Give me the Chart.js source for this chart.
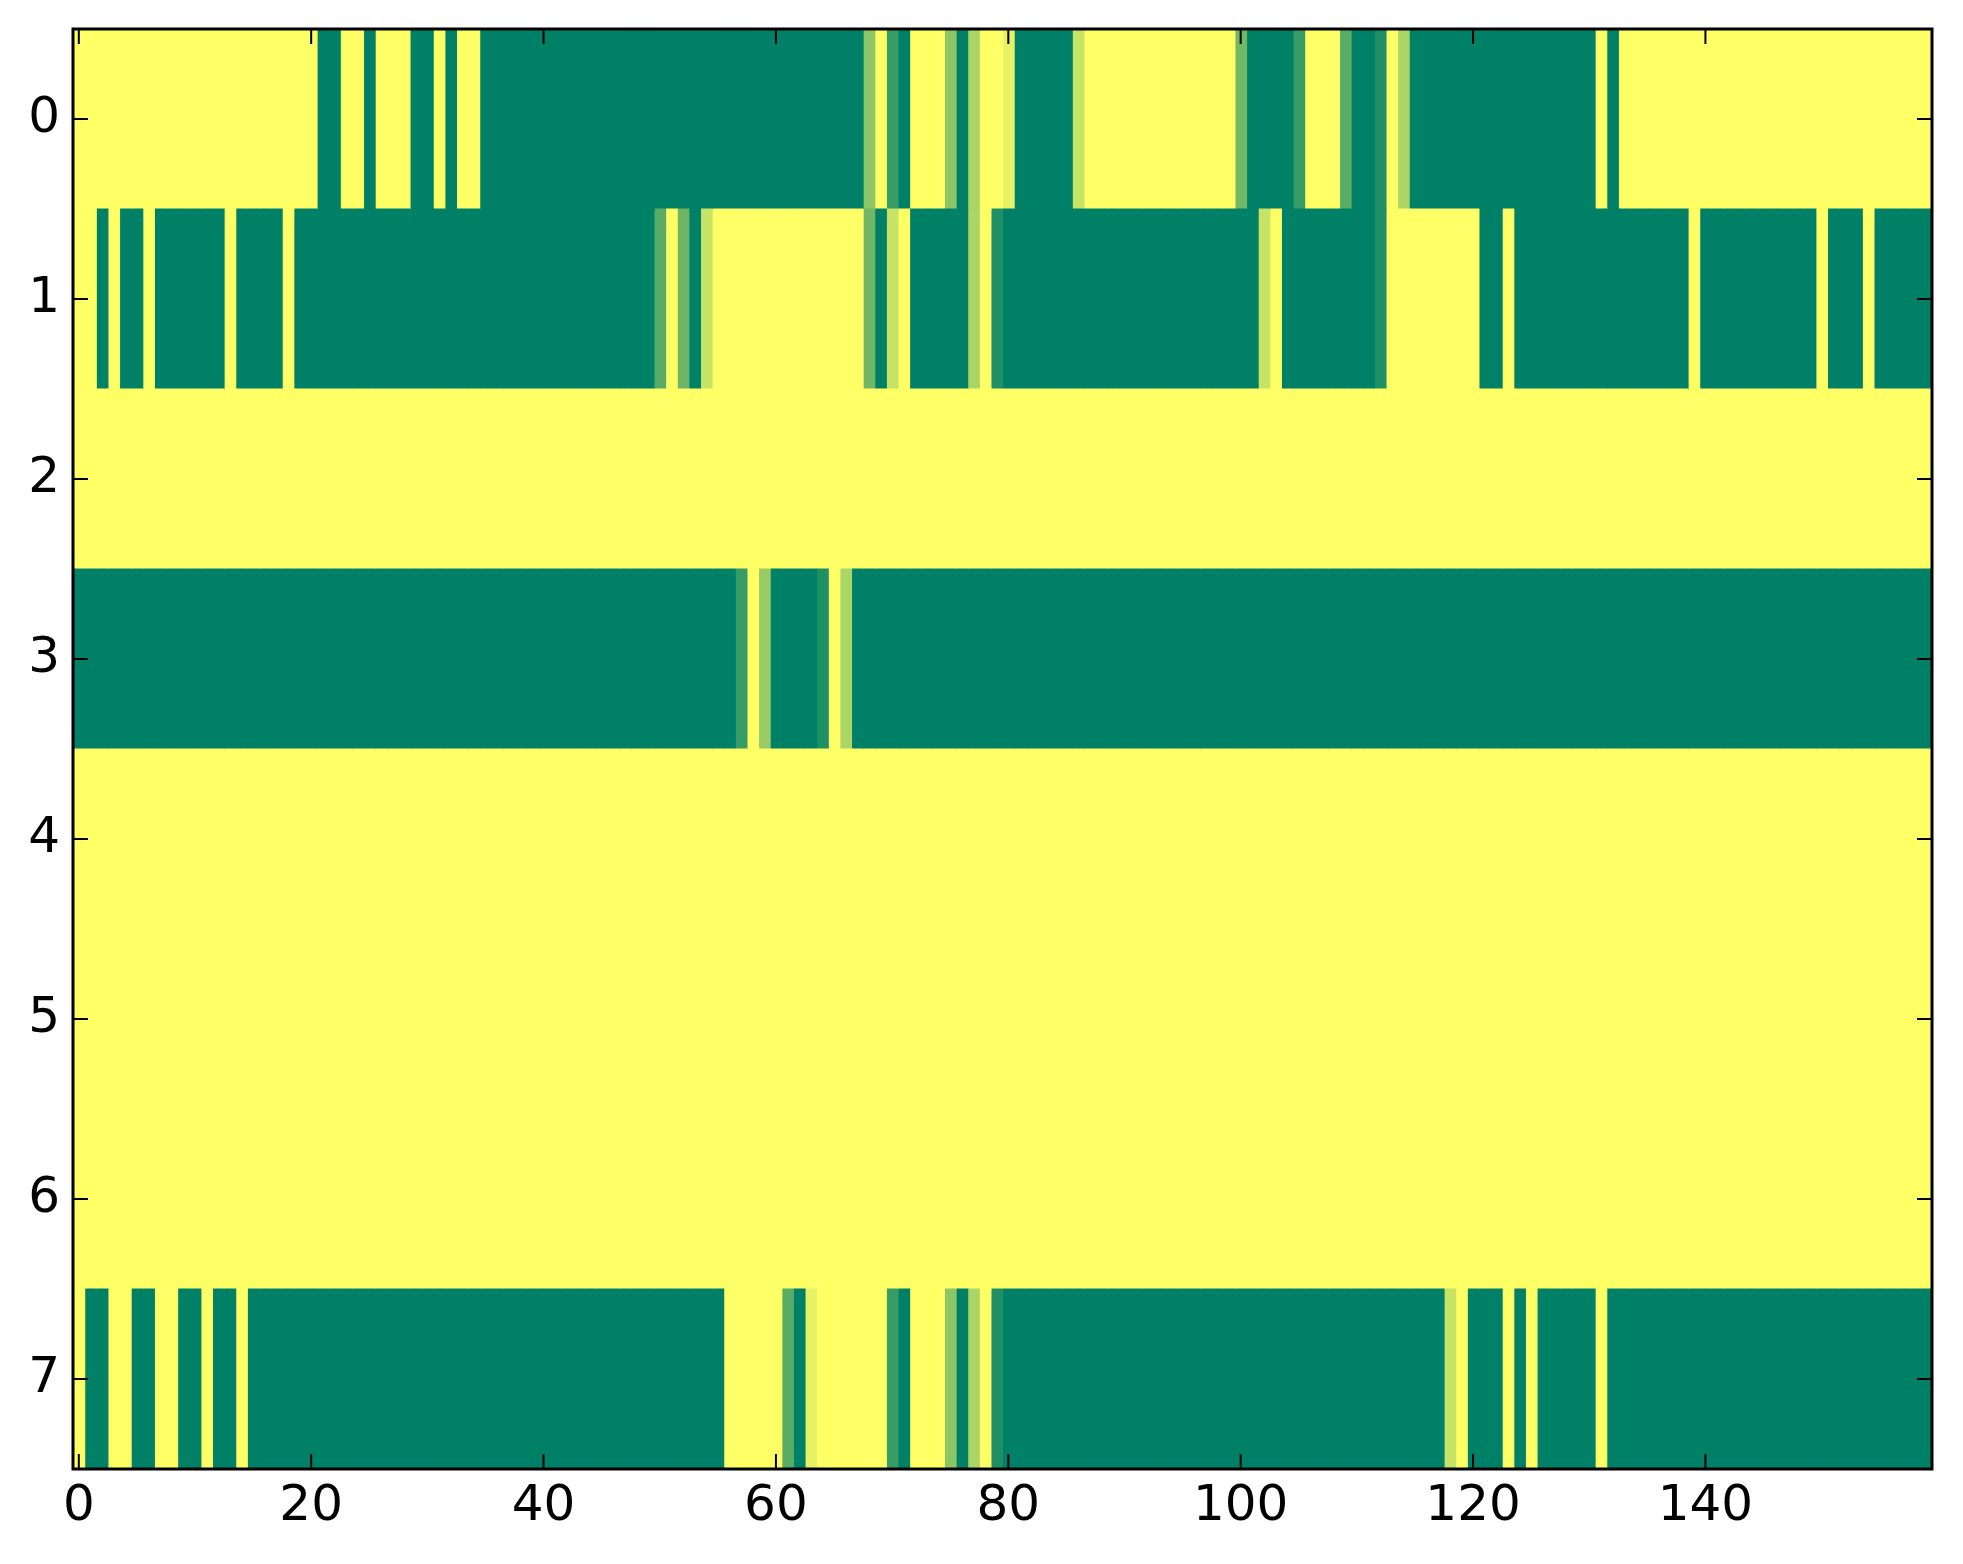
<!DOCTYPE html>
<html><head><meta charset="utf-8">
<script src="https://cdn.jsdelivr.net/npm/chart.js@4.4.1/dist/chart.umd.min.js"></script>
<style>html,body{margin:0;padding:0;background:#fff;}#wrap{width:1963px;height:1564px;}</style>
</head><body><div id="wrap"><canvas id="c" width="1963" height="1564"></canvas></div>
<script>
const rowLabels = ['0','1','2','3','4','5','6','7'];
const xTickValues = [0,20,40,60,80,100,120,140];

const row0 = [
 1,1,1,1,1,1,1,1,1,1,1,1,1,1,1,1,1,1,1,1,
 1,0,0,1,1,0,1,1,1,0,0,1,0,1,1,0,0,0,0,0,
 0,0,0,0,0,0,0,0,0,0,0,0,0,0,0,0,0,0,0,0,
 0,0,0,0,0,0,0,0,.55,1,.22,0,1,1,1,.55,0,.67,1,1,
 .9,0,0,0,0,0,.78,1,1,1,1,1,1,1,1,1,1,1,1,1,
 .44,0,0,0,0,.22,1,1,1,.35,0,0,.12,1,.67,0,0,0,0,0,
 0,0,0,0,0,0,0,0,0,0,0,1,0,1,1,1,1,1,1,1,
 1,1,1,1,1,1,1,1,1,1,1,1,1,1,1,1,1,1,1,1];
const row1 = [
 1,1,0,1,0,0,1,0,0,0,0,0,0,1,0,0,0,0,1,0,
 0,0,0,0,0,0,0,0,0,0,0,0,0,0,0,0,0,0,0,0,
 0,0,0,0,0,0,0,0,0,0,.35,1,.43,0,.78,1,1,1,1,1,
 1,1,1,1,1,1,1,1,.44,0,.78,1,0,0,0,0,0,.67,1,.12,
 0,0,0,0,0,0,0,0,0,0,0,0,0,0,0,0,0,0,0,0,
 0,0,.78,1,0,0,0,0,0,0,0,0,.12,1,1,1,1,1,1,1,
 1,0,0,1,0,0,0,0,0,0,0,0,0,0,0,0,0,0,0,1,
 0,0,0,0,0,0,0,0,0,0,1,0,0,0,1,0,0,0,0,0];
const row2 = [
 1,1,1,1,1,1,1,1,1,1,1,1,1,1,1,1,1,1,1,1,
 1,1,1,1,1,1,1,1,1,1,1,1,1,1,1,1,1,1,1,1,
 1,1,1,1,1,1,1,1,1,1,1,1,1,1,1,1,1,1,1,1,
 1,1,1,1,1,1,1,1,1,1,1,1,1,1,1,1,1,1,1,1,
 1,1,1,1,1,1,1,1,1,1,1,1,1,1,1,1,1,1,1,1,
 1,1,1,1,1,1,1,1,1,1,1,1,1,1,1,1,1,1,1,1,
 1,1,1,1,1,1,1,1,1,1,1,1,1,1,1,1,1,1,1,1,
 1,1,1,1,1,1,1,1,1,1,1,1,1,1,1,1,1,1,1,1];
const row3 = [
 0,0,0,0,0,0,0,0,0,0,0,0,0,0,0,0,0,0,0,0,
 0,0,0,0,0,0,0,0,0,0,0,0,0,0,0,0,0,0,0,0,
 0,0,0,0,0,0,0,0,0,0,0,0,0,0,0,0,0,.22,1,.6,
 0,0,0,0,.12,1,.67,0,0,0,0,0,0,0,0,0,0,0,0,0,
 0,0,0,0,0,0,0,0,0,0,0,0,0,0,0,0,0,0,0,0,
 0,0,0,0,0,0,0,0,0,0,0,0,0,0,0,0,0,0,0,0,
 0,0,0,0,0,0,0,0,0,0,0,0,0,0,0,0,0,0,0,0,
 0,0,0,0,0,0,0,0,0,0,0,0,0,0,0,0,0,0,0,0];
const row4 = [
 1,1,1,1,1,1,1,1,1,1,1,1,1,1,1,1,1,1,1,1,
 1,1,1,1,1,1,1,1,1,1,1,1,1,1,1,1,1,1,1,1,
 1,1,1,1,1,1,1,1,1,1,1,1,1,1,1,1,1,1,1,1,
 1,1,1,1,1,1,1,1,1,1,1,1,1,1,1,1,1,1,1,1,
 1,1,1,1,1,1,1,1,1,1,1,1,1,1,1,1,1,1,1,1,
 1,1,1,1,1,1,1,1,1,1,1,1,1,1,1,1,1,1,1,1,
 1,1,1,1,1,1,1,1,1,1,1,1,1,1,1,1,1,1,1,1,
 1,1,1,1,1,1,1,1,1,1,1,1,1,1,1,1,1,1,1,1];
const row5 = [
 1,1,1,1,1,1,1,1,1,1,1,1,1,1,1,1,1,1,1,1,
 1,1,1,1,1,1,1,1,1,1,1,1,1,1,1,1,1,1,1,1,
 1,1,1,1,1,1,1,1,1,1,1,1,1,1,1,1,1,1,1,1,
 1,1,1,1,1,1,1,1,1,1,1,1,1,1,1,1,1,1,1,1,
 1,1,1,1,1,1,1,1,1,1,1,1,1,1,1,1,1,1,1,1,
 1,1,1,1,1,1,1,1,1,1,1,1,1,1,1,1,1,1,1,1,
 1,1,1,1,1,1,1,1,1,1,1,1,1,1,1,1,1,1,1,1,
 1,1,1,1,1,1,1,1,1,1,1,1,1,1,1,1,1,1,1,1];
const row6 = [
 1,1,1,1,1,1,1,1,1,1,1,1,1,1,1,1,1,1,1,1,
 1,1,1,1,1,1,1,1,1,1,1,1,1,1,1,1,1,1,1,1,
 1,1,1,1,1,1,1,1,1,1,1,1,1,1,1,1,1,1,1,1,
 1,1,1,1,1,1,1,1,1,1,1,1,1,1,1,1,1,1,1,1,
 1,1,1,1,1,1,1,1,1,1,1,1,1,1,1,1,1,1,1,1,
 1,1,1,1,1,1,1,1,1,1,1,1,1,1,1,1,1,1,1,1,
 1,1,1,1,1,1,1,1,1,1,1,1,1,1,1,1,1,1,1,1,
 1,1,1,1,1,1,1,1,1,1,1,1,1,1,1,1,1,1,1,1];
const row7 = [
 1,0,0,1,1,0,0,1,1,0,0,1,0,0,1,0,0,0,0,0,
 0,0,0,0,0,0,0,0,0,0,0,0,0,0,0,0,0,0,0,0,
 0,0,0,0,0,0,0,0,0,0,0,0,0,0,0,0,1,1,1,1,
 1,.35,0,.9,1,1,1,1,1,1,.22,0,1,1,1,.55,0,.67,1,.12,
 0,0,0,0,0,0,0,0,0,0,0,0,0,0,0,0,0,0,0,0,
 0,0,0,0,0,0,0,0,0,0,0,0,0,0,0,0,0,0,.78,1,
 0,0,0,1,0,1,0,0,0,0,0,1,0,0,0,0,0,0,0,0,
 0,0,0,0,0,0,0,0,0,0,0,0,0,0,0,0,0,0,0,0];

const rows = [row0,row1,row2,row3,row4,row5,row6,row7];
const nCols = row0.length;

// matplotlib "summer" colormap
function summer(v){
  return 'rgb(' + Math.round(v*255) + ',' + Math.round((0.5+0.5*v)*255) + ',102)';
}

const datasets = [];
for (let c = 0; c < nCols; c++) {
  datasets.push({
    data: rows.map(() => [c - 0.5, c + 0.5]),
    backgroundColor: rows.map(r => summer(r[c])),
    borderWidth: 0,
    borderSkipped: false,
    grouped: false,
    barPercentage: 1,
    categoryPercentage: 1,
    inflateAmount: 0.6
  });
}

const frameTicks = {
  id: 'frameTicks',
  afterDatasetsDraw(chart) {
    const ctx = chart.ctx, a = chart.chartArea, x = chart.scales.x, y = chart.scales.y;
    const L = 15;
    ctx.save();
    ctx.strokeStyle = '#000';
    ctx.lineWidth = 2;
    ctx.beginPath();
    x.ticks.forEach(t => {
      const px = x.getPixelForValue(t.value);
      ctx.moveTo(px, a.top); ctx.lineTo(px, a.top + L);
      ctx.moveTo(px, a.bottom); ctx.lineTo(px, a.bottom - L);
    });
    y.ticks.forEach((t, i) => {
      const py = y.getPixelForTick(i);
      ctx.moveTo(a.left, py); ctx.lineTo(a.left + L, py);
      ctx.moveTo(a.right, py); ctx.lineTo(a.right - L, py);
    });
    ctx.stroke();
    ctx.lineWidth = 3;
    ctx.strokeRect(a.left, a.top, a.right - a.left, a.bottom - a.top);
    ctx.restore();
  }
};

const tickFont = { family: "'DejaVu Sans', sans-serif", size: 50 };

new Chart(document.getElementById('c'), {
  type: 'bar',
  data: { labels: rowLabels, datasets: datasets },
  options: {
    indexAxis: 'y',
    responsive: false,
    maintainAspectRatio: false,
    devicePixelRatio: 1,
    animation: false,
    layout: { padding: { top: 29, right: 31, left: 0, bottom: 0 } },
    plugins: { legend: { display: false }, tooltip: { enabled: false } },
    scales: {
      x: {
        type: 'linear',
        min: -0.5, max: 159.5,
        grid: { display: false, drawTicks: false },
        border: { display: false },
        afterBuildTicks: s => { s.ticks = xTickValues.map(v => ({ value: v })); },
        afterFit: s => { s.height = 95; s.paddingLeft = 0; s.paddingRight = 0; },
        ticks: { font: tickFont, color: '#000', padding: 8, maxRotation: 0, autoSkip: false,
                 callback: v => String(v) }
      },
      y: {
        type: 'category',
        offset: true,
        grid: { display: false, drawTicks: false },
        border: { display: false },
        afterFit: s => { s.width = 73; s.paddingTop = 0; s.paddingBottom = 0; },
        ticks: { font: tickFont, color: '#000', padding: 13, autoSkip: false }
      }
    }
  },
  plugins: [frameTicks]
});
</script>
</body></html>
